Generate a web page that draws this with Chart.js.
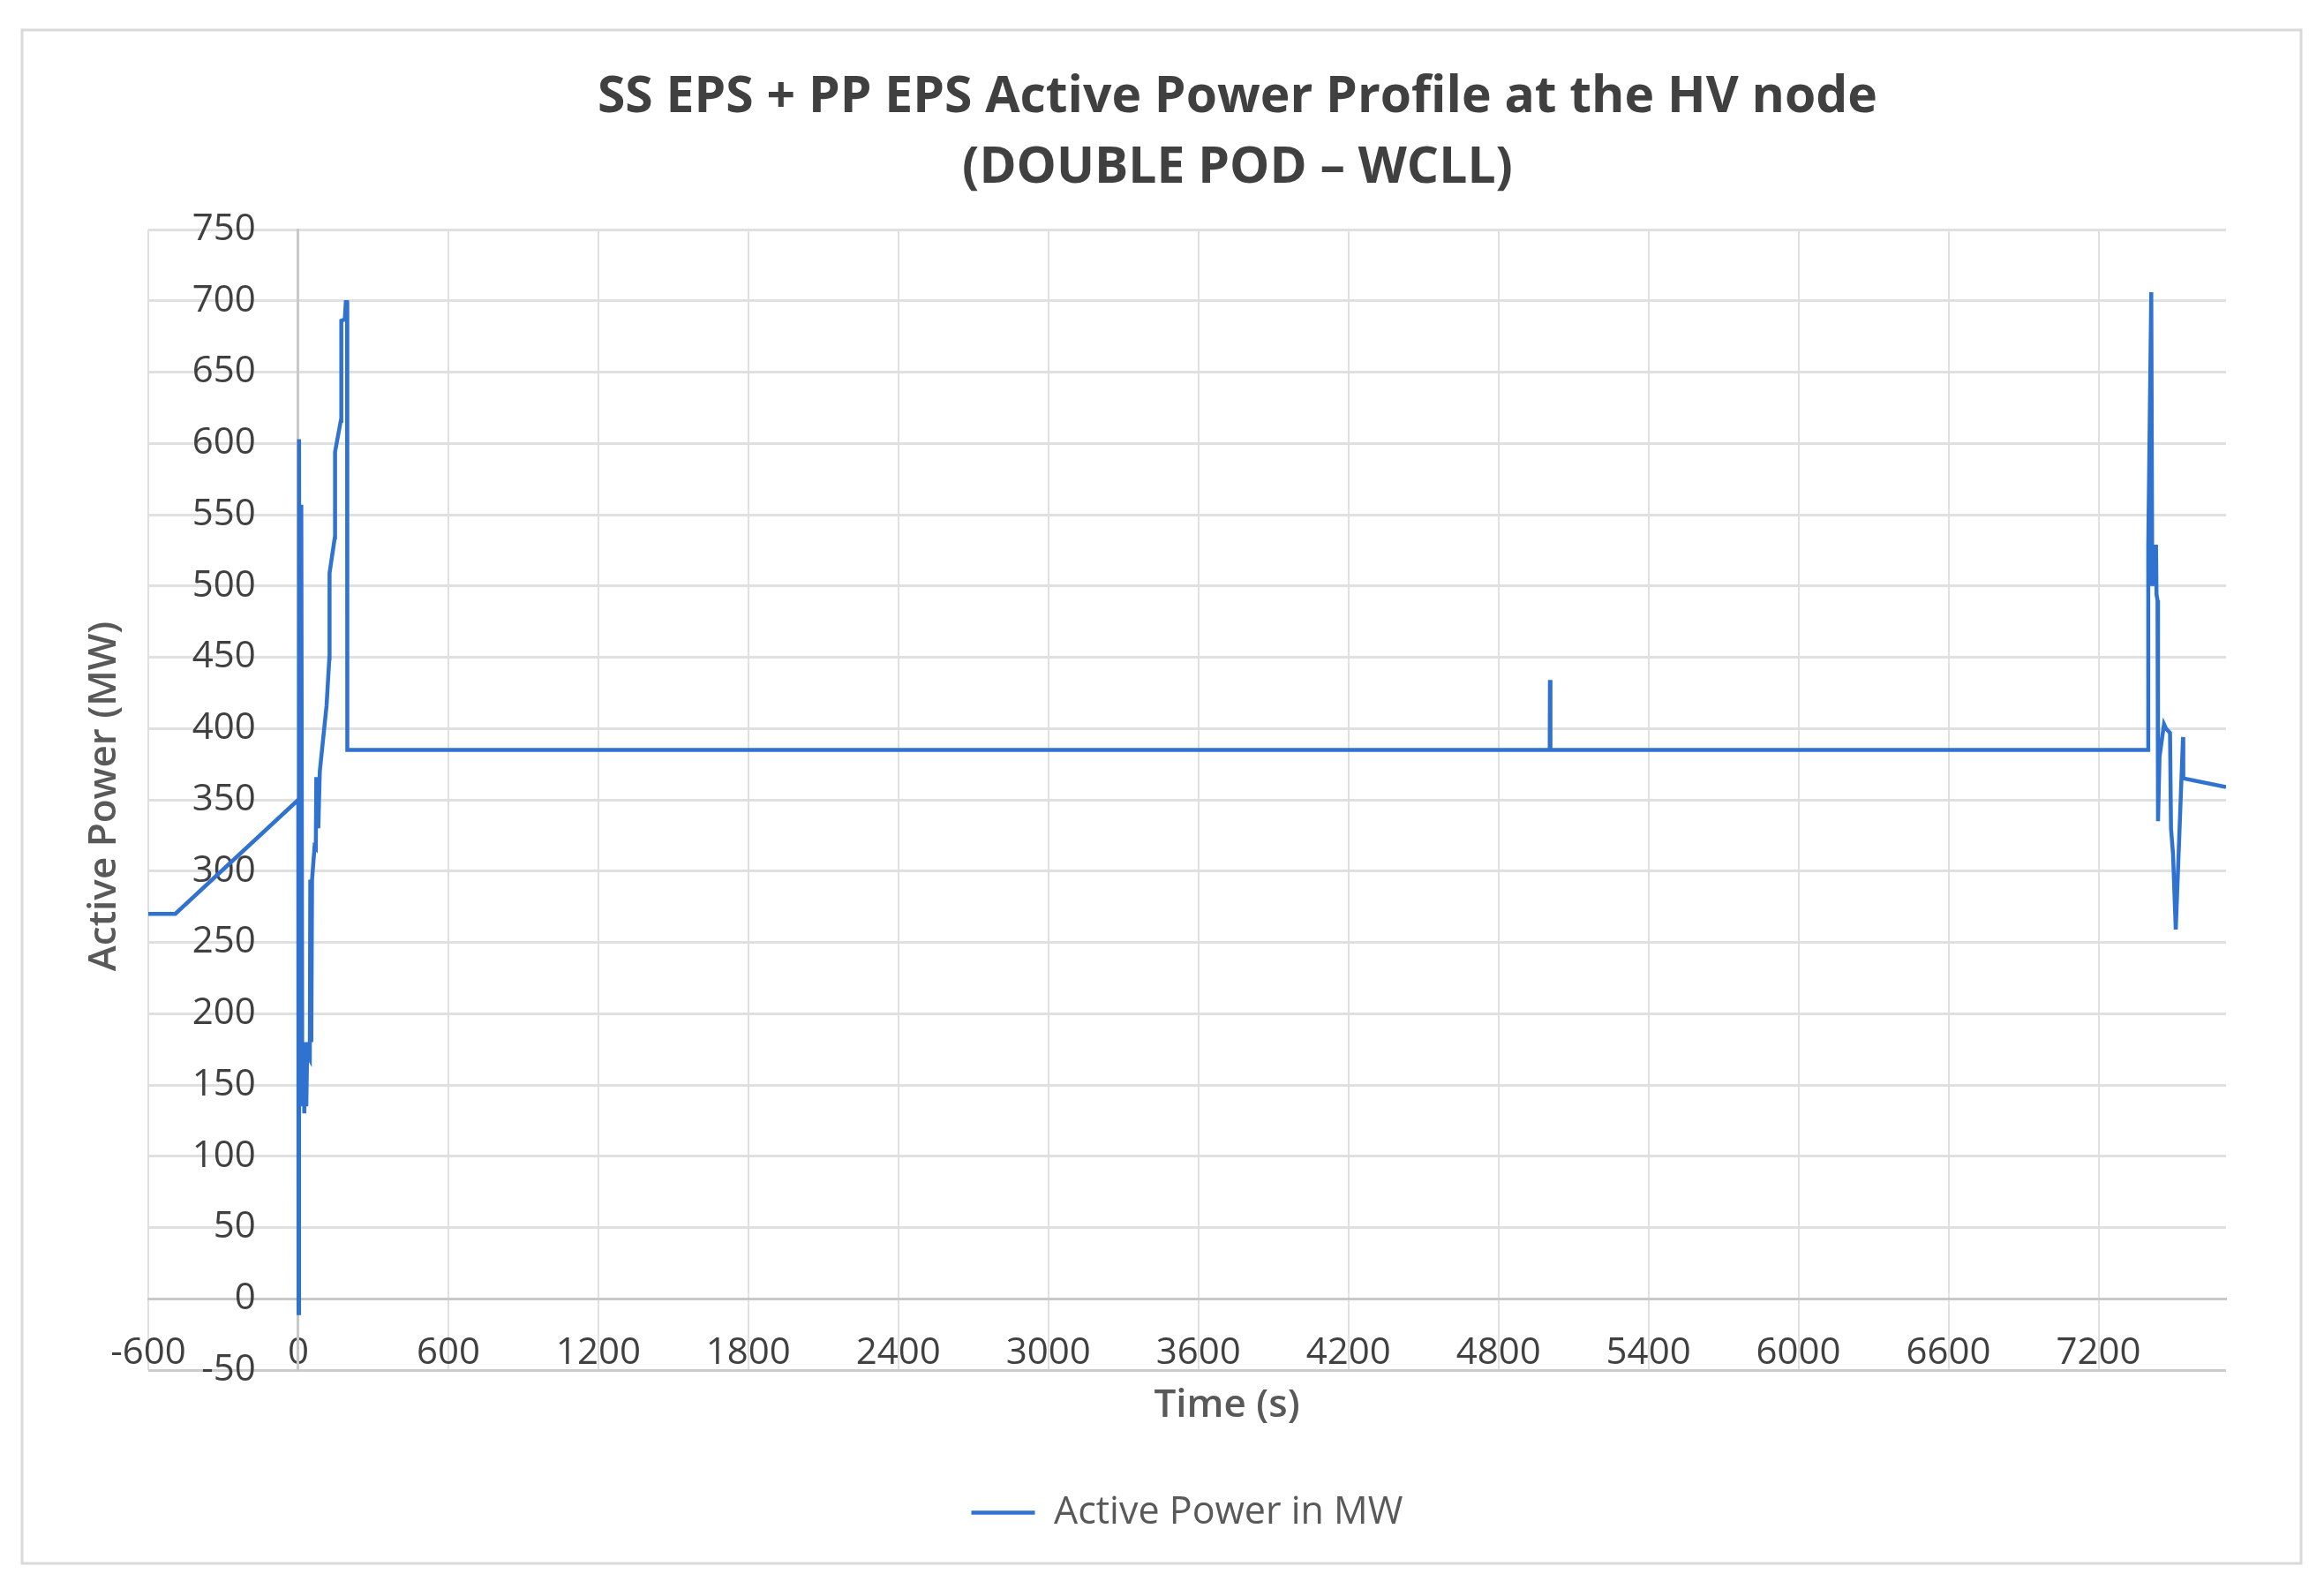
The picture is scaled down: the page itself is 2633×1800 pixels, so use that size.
<!DOCTYPE html>
<html>
<head>
<meta charset="utf-8">
<title>SS EPS + PP EPS Active Power Profile</title>
<script src="https://cdn.jsdelivr.net/npm/chart.js"></script>
<style>
  html, body { margin: 0; padding: 0; background: #fff; }
  canvas { display: block; }
</style>
</head>
<body>
<canvas id="graficoPotencia" width="2633" height="1800"></canvas>
<script>
// Tempo em segundos
const tempos = [
    -600, -492, 0, 1, 3, 6, 12, 16, 20, 24, 28, 32, 36, 40, 46, 48, 52, 55,
    65, 70, 72, 80, 86, 113, 124, 125, 146, 147, 170, 172, 186, 190, 195, 196,
    5005, 5006, 5008,
    7397, 7399, 7411, 7415, 7430, 7432, 7436, 7438, 7444, 7462, 7470, 7486,
    7490, 7498, 7509, 7538, 7539, 7710
];

// Potência ativa em MW
const potencia = [
    270, 270, 350, -10, 603, 140, 557, 135, 180, 130, 175, 135, 180, 170, 168, 294, 180, 294,
    317, 316, 366, 330, 370, 416, 449, 509, 534, 594, 616, 686, 687, 699, 699, 385,
    385, 434, 385,
    385, 529, 706, 500, 529, 494, 490, 335, 380, 403, 400, 397,
    330, 312, 259, 394, 365, 359
];

// Rótulos do eixo do tempo
const rotulosTempo = [-600, 0, 600, 1200, 1800, 2400, 3000, 3600, 4200, 4800, 5400, 6000, 6600, 7200];

const nomeSerie = 'Active Power in MW';
const tituloLinhas = ['SS EPS + PP EPS Active Power Profile at the HV node', '(DOUBLE POD – WCLL)'];
const tituloEixoX = 'Time (s)';
const tituloEixoY = 'Active Power (MW)';

const corLinha = '#2f72d0';
const corTexto = '#404040';
const corGrade = '#e0e0e0';

// Plugin para fundo, moldura e títulos
const textosExtras = {
    id: 'textosExtras',
    beforeDraw(chart) {
        const ctx = chart.ctx;
        ctx.save();
        ctx.fillStyle = '#ffffff';
        ctx.fillRect(0, 0, chart.width, chart.height);
        ctx.strokeStyle = '#d9d9d9';
        ctx.lineWidth = 3;
        ctx.strokeRect(25, 34, 2582, 1737);
        ctx.restore();
    },
    afterDraw(chart) {
        const ctx = chart.ctx;
        ctx.save();
        ctx.textAlign = 'center';
        ctx.textBaseline = 'middle';

        // título principal
        ctx.fillStyle = '#404040';
        ctx.font = '700 57px "Open Sans"';
        ctx.fillText(tituloLinhas[0], 1402, 111);
        ctx.fillText(tituloLinhas[1], 1402, 191);

        // títulos dos eixos
        ctx.fillStyle = '#595959';
        ctx.font = '600 44px "Open Sans"';
        ctx.fillText(tituloEixoX, 1390, 1592);
        ctx.translate(118, 902);
        ctx.rotate(-Math.PI / 2);
        ctx.fillText(tituloEixoY, 0, 0);
        ctx.restore();
    }
};

const fonteTicks = { family: 'Open Sans', size: 42 };

const ctxPotencia = document.getElementById('graficoPotencia').getContext('2d');
new Chart(ctxPotencia, {
    type: 'line',
    data: {
        datasets: [{
            label: nomeSerie,
            data: tempos.map((t, i) => ({ x: t, y: potencia[i] })),
            borderColor: corLinha,
            backgroundColor: corLinha,
            borderWidth: 4.5,
            pointRadius: 0,
            tension: 0
        }]
    },
    options: {
        responsive: false,
        animation: false,
        devicePixelRatio: 1,
        layout: { padding: { left: 168, right: 111, top: 260, bottom: 55 } },
        scales: {
            x: {
                type: 'linear',
                position: { y: 0 },
                min: -600,
                max: 7710,
                afterBuildTicks: eixo => {
                    eixo.ticks = rotulosTempo.map(v => ({ value: v }));
                },
                ticks: {
                    autoSkip: false,
                    maxRotation: 0,
                    padding: 37,
                    color: corTexto,
                    font: fonteTicks,
                    callback: v => String(v)
                },
                grid: { color: corGrade, lineWidth: 2, drawTicks: false },
                border: { color: '#c8c8c8', width: 3 }
            },
            // eixo vertical em x = 0 (linha e grade)
            y: {
                type: 'linear',
                position: { x: 0 },
                min: -50,
                max: 750,
                ticks: { stepSize: 50, display: false },
                grid: {
                    color: c => (c.tick && c.tick.value === -50 ? '#cccccc' : corGrade),
                    lineWidth: 3,
                    drawTicks: false
                },
                border: { color: '#c8c8c8', width: 3 }
            },
            // rótulos do eixo vertical, um pouco à esquerda de x = 0
            yRotulos: {
                axis: 'y',
                type: 'linear',
                position: { x: -170 },
                min: -50,
                max: 750,
                ticks: {
                    stepSize: 50,
                    autoSkip: false,
                    color: corTexto,
                    font: fonteTicks,
                    callback: v => String(v)
                },
                grid: { display: false },
                border: { display: false }
            }
        },
        plugins: {
            legend: {
                position: 'bottom',
                labels: {
                    usePointStyle: true,
                    pointStyle: 'line',
                    pointStyleWidth: 72,
                    padding: 140,
                    color: '#595959',
                    font: { family: 'Open Sans', size: 43 }
                }
            },
            tooltip: { enabled: false }
        }
    },
    plugins: [textosExtras]
});
</script>
</body>
</html>
